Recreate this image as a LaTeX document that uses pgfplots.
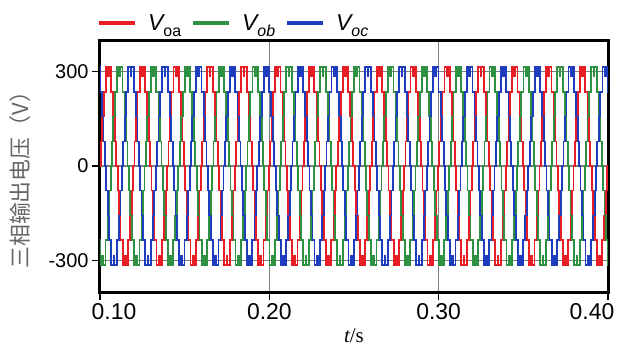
\documentclass[border=0pt]{standalone}
\usepackage{fontspec}
\setmainfont{Liberation Sans}
\newfontfamily\seriffont{Liberation Serif}
\newfontfamily\cjk{Noto Sans CJK SC}
\usepackage{pgfplots}
\pgfplotsset{compat=1.18}
\definecolor{cR}{RGB}{232,30,38}
\definecolor{cG}{RGB}{45,145,65}
\definecolor{cB}{RGB}{30,60,190}
\begin{document}
\begin{tikzpicture}
\path[use as bounding box] (-100bp,-55bp) rectangle (523bp,292bp);
\begin{axis}[
  at={(0,0)}, anchor=south west,
  scale only axis, width=508bp, height=252bp,
  xmin=100, xmax=400, ymin=-400, ymax=400,
  xtick={100,200,300,400}, xticklabels={\hspace*{28bp}0.10,0.20,0.30,0.40\hspace*{32bp}},
  ytick={-300,0,300}, yticklabels={-300,0,300},
  axis line style={line width=3bp, black},
  tick style={line width=1.5bp, black},
  tick align=outside, tick pos=left,
  major tick length=8bp,
  grid=major, major grid style={black!50, line width=1.5bp},
  xticklabel style={font=\fontsize{23}{26}\selectfont},
  yticklabel style={font=\fontsize{20}{24}\selectfont},
  xlabel={{\seriffont\itshape t}{\seriffont /s}},
  xlabel style={font=\fontsize{21}{24}\selectfont, yshift=-2bp},
  ylabel={{\cjk 三相输出电压（V）}},
  ylabel style={font=\fontsize{22}{24}\selectfont, text=black!60, at={(axis description cs:-0.157,0.465)}, anchor=center},
  legend style={at={(rel axis cs:0,1)}, anchor=south west, draw=none, fill=none,
    legend columns=3, font=\fontsize{23}{26}\selectfont, inner sep=0pt,
    yshift=6bp, xshift=-3bp,
    /tikz/every even column/.append style={column sep=8bp}},
  legend image code/.code={\draw[#1, line width=4bp] (0bp,0bp) -- (36bp,0bp);},
  every axis plot/.append style={line width=1.8bp},
]
\addplot[cR, const plot] coordinates {
(100,0)
(100.399,78)(101.223,157)(102.149,235)(103.391,315)(104.722,285)(105.278,315)(106.609,235)(107.851,157)(108.777,78)(109.601,0)
(110.399,-78)(111.223,-157)(112.149,-235)(113.391,-315)(114.722,-285)(115.278,-315)(116.609,-235)(117.851,-157)(118.777,-78)(119.601,0)
(120.399,78)(121.223,157)(122.149,235)(123.391,315)(124.722,285)(125.278,315)(126.609,235)(127.851,157)(128.777,78)(129.601,0)
(130.399,-78)(131.223,-157)(132.149,-235)(133.391,-315)(134.722,-285)(135.278,-315)(136.609,-235)(137.851,-157)(138.777,-78)(139.601,0)
(140.399,78)(141.223,157)(142.149,235)(143.391,315)(144.722,285)(145.278,315)(146.609,235)(147.851,157)(148.777,78)(149.601,0)
(150.399,-78)(151.223,-157)(152.149,-235)(153.391,-315)(154.722,-285)(155.278,-315)(156.609,-235)(157.851,-157)(158.777,-78)(159.601,0)
(160.399,78)(161.223,157)(162.149,235)(163.391,315)(164.722,285)(165.278,315)(166.609,235)(167.851,157)(168.777,78)(169.601,0)
(170.399,-78)(171.223,-157)(172.149,-235)(173.391,-315)(174.722,-285)(175.278,-315)(176.609,-235)(177.851,-157)(178.777,-78)(179.601,0)
(180.399,78)(181.223,157)(182.149,235)(183.391,315)(184.722,285)(185.278,315)(186.609,235)(187.851,157)(188.777,78)(189.601,0)
(190.399,-78)(191.223,-157)(192.149,-235)(193.391,-315)(194.722,-285)(195.278,-315)(196.609,-235)(197.851,-157)(198.777,-78)(199.601,0)
(200.399,78)(201.223,157)(202.149,235)(203.391,315)(204.722,285)(205.278,315)(206.609,235)(207.851,157)(208.777,78)(209.601,0)
(210.399,-78)(211.223,-157)(212.149,-235)(213.391,-315)(214.722,-285)(215.278,-315)(216.609,-235)(217.851,-157)(218.777,-78)(219.601,0)
(220.399,78)(221.223,157)(222.149,235)(223.391,315)(224.722,285)(225.278,315)(226.609,235)(227.851,157)(228.777,78)(229.601,0)
(230.399,-78)(231.223,-157)(232.149,-235)(233.391,-315)(234.722,-285)(235.278,-315)(236.609,-235)(237.851,-157)(238.777,-78)(239.601,0)
(240.399,78)(241.223,157)(242.149,235)(243.391,315)(244.722,285)(245.278,315)(246.609,235)(247.851,157)(248.777,78)(249.601,0)
(250.399,-78)(251.223,-157)(252.149,-235)(253.391,-315)(254.722,-285)(255.278,-315)(256.609,-235)(257.851,-157)(258.777,-78)(259.601,0)
(260.399,78)(261.223,157)(262.149,235)(263.391,315)(264.722,285)(265.278,315)(266.609,235)(267.851,157)(268.777,78)(269.601,0)
(270.399,-78)(271.223,-157)(272.149,-235)(273.391,-315)(274.722,-285)(275.278,-315)(276.609,-235)(277.851,-157)(278.777,-78)(279.601,0)
(280.399,78)(281.223,157)(282.149,235)(283.391,315)(284.722,285)(285.278,315)(286.609,235)(287.851,157)(288.777,78)(289.601,0)
(290.399,-78)(291.223,-157)(292.149,-235)(293.391,-315)(294.722,-285)(295.278,-315)(296.609,-235)(297.851,-157)(298.777,-78)(299.601,0)
(300.399,78)(301.223,157)(302.149,235)(303.391,315)(304.722,285)(305.278,315)(306.609,235)(307.851,157)(308.777,78)(309.601,0)
(310.399,-78)(311.223,-157)(312.149,-235)(313.391,-315)(314.722,-285)(315.278,-315)(316.609,-235)(317.851,-157)(318.777,-78)(319.601,0)
(320.399,78)(321.223,157)(322.149,235)(323.391,315)(324.722,285)(325.278,315)(326.609,235)(327.851,157)(328.777,78)(329.601,0)
(330.399,-78)(331.223,-157)(332.149,-235)(333.391,-315)(334.722,-285)(335.278,-315)(336.609,-235)(337.851,-157)(338.777,-78)(339.601,0)
(340.399,78)(341.223,157)(342.149,235)(343.391,315)(344.722,285)(345.278,315)(346.609,235)(347.851,157)(348.777,78)(349.601,0)
(350.399,-78)(351.223,-157)(352.149,-235)(353.391,-315)(354.722,-285)(355.278,-315)(356.609,-235)(357.851,-157)(358.777,-78)(359.601,0)
(360.399,78)(361.223,157)(362.149,235)(363.391,315)(364.722,285)(365.278,315)(366.609,235)(367.851,157)(368.777,78)(369.601,0)
(370.399,-78)(371.223,-157)(372.149,-235)(373.391,-315)(374.722,-285)(375.278,-315)(376.609,-235)(377.851,-157)(378.777,-78)(379.601,0)
(380.399,78)(381.223,157)(382.149,235)(383.391,315)(384.722,285)(385.278,315)(386.609,235)(387.851,157)(388.777,78)(389.601,0)
(390.399,-78)(391.223,-157)(392.149,-235)(393.391,-315)(394.722,-285)(395.278,-315)(396.609,-235)(397.851,-157)(398.777,-78)(399.601,0)
(400.5,0)
};
\addlegendentry{\hspace*{9bp}{\itshape V}\raisebox{-0.25em}{\fontsize{16}{17}\selectfont oa}}
\addplot[cG, const plot] coordinates {
(97.066,-78)(97.890,-157)(98.816,-235)(100.058,-315)(101.389,-285)(101.945,-315)(103.276,-235)(104.518,-157)(105.444,-78)(106.268,0)
(107.066,78)(107.890,157)(108.816,235)(110.058,315)(111.389,285)(111.945,315)(113.276,235)(114.518,157)(115.444,78)(116.268,0)
(117.066,-78)(117.890,-157)(118.816,-235)(120.058,-315)(121.389,-285)(121.945,-315)(123.276,-235)(124.518,-157)(125.444,-78)(126.268,0)
(127.066,78)(127.890,157)(128.816,235)(130.058,315)(131.389,285)(131.945,315)(133.276,235)(134.518,157)(135.444,78)(136.268,0)
(137.066,-78)(137.890,-157)(138.816,-235)(140.058,-315)(141.389,-285)(141.945,-315)(143.276,-235)(144.518,-157)(145.444,-78)(146.268,0)
(147.066,78)(147.890,157)(148.816,235)(150.058,315)(151.389,285)(151.945,315)(153.276,235)(154.518,157)(155.444,78)(156.268,0)
(157.066,-78)(157.890,-157)(158.816,-235)(160.058,-315)(161.389,-285)(161.945,-315)(163.276,-235)(164.518,-157)(165.444,-78)(166.268,0)
(167.066,78)(167.890,157)(168.816,235)(170.058,315)(171.389,285)(171.945,315)(173.276,235)(174.518,157)(175.444,78)(176.268,0)
(177.066,-78)(177.890,-157)(178.816,-235)(180.058,-315)(181.389,-285)(181.945,-315)(183.276,-235)(184.518,-157)(185.444,-78)(186.268,0)
(187.066,78)(187.890,157)(188.816,235)(190.058,315)(191.389,285)(191.945,315)(193.276,235)(194.518,157)(195.444,78)(196.268,0)
(197.066,-78)(197.890,-157)(198.816,-235)(200.058,-315)(201.389,-285)(201.945,-315)(203.276,-235)(204.518,-157)(205.444,-78)(206.268,0)
(207.066,78)(207.890,157)(208.816,235)(210.058,315)(211.389,285)(211.945,315)(213.276,235)(214.518,157)(215.444,78)(216.268,0)
(217.066,-78)(217.890,-157)(218.816,-235)(220.058,-315)(221.389,-285)(221.945,-315)(223.276,-235)(224.518,-157)(225.444,-78)(226.268,0)
(227.066,78)(227.890,157)(228.816,235)(230.058,315)(231.389,285)(231.945,315)(233.276,235)(234.518,157)(235.444,78)(236.268,0)
(237.066,-78)(237.890,-157)(238.816,-235)(240.058,-315)(241.389,-285)(241.945,-315)(243.276,-235)(244.518,-157)(245.444,-78)(246.268,0)
(247.066,78)(247.890,157)(248.816,235)(250.058,315)(251.389,285)(251.945,315)(253.276,235)(254.518,157)(255.444,78)(256.268,0)
(257.066,-78)(257.890,-157)(258.816,-235)(260.058,-315)(261.389,-285)(261.945,-315)(263.276,-235)(264.518,-157)(265.444,-78)(266.268,0)
(267.066,78)(267.890,157)(268.816,235)(270.058,315)(271.389,285)(271.945,315)(273.276,235)(274.518,157)(275.444,78)(276.268,0)
(277.066,-78)(277.890,-157)(278.816,-235)(280.058,-315)(281.389,-285)(281.945,-315)(283.276,-235)(284.518,-157)(285.444,-78)(286.268,0)
(287.066,78)(287.890,157)(288.816,235)(290.058,315)(291.389,285)(291.945,315)(293.276,235)(294.518,157)(295.444,78)(296.268,0)
(297.066,-78)(297.890,-157)(298.816,-235)(300.058,-315)(301.389,-285)(301.945,-315)(303.276,-235)(304.518,-157)(305.444,-78)(306.268,0)
(307.066,78)(307.890,157)(308.816,235)(310.058,315)(311.389,285)(311.945,315)(313.276,235)(314.518,157)(315.444,78)(316.268,0)
(317.066,-78)(317.890,-157)(318.816,-235)(320.058,-315)(321.389,-285)(321.945,-315)(323.276,-235)(324.518,-157)(325.444,-78)(326.268,0)
(327.066,78)(327.890,157)(328.816,235)(330.058,315)(331.389,285)(331.945,315)(333.276,235)(334.518,157)(335.444,78)(336.268,0)
(337.066,-78)(337.890,-157)(338.816,-235)(340.058,-315)(341.389,-285)(341.945,-315)(343.276,-235)(344.518,-157)(345.444,-78)(346.268,0)
(347.066,78)(347.890,157)(348.816,235)(350.058,315)(351.389,285)(351.945,315)(353.276,235)(354.518,157)(355.444,78)(356.268,0)
(357.066,-78)(357.890,-157)(358.816,-235)(360.058,-315)(361.389,-285)(361.945,-315)(363.276,-235)(364.518,-157)(365.444,-78)(366.268,0)
(367.066,78)(367.890,157)(368.816,235)(370.058,315)(371.389,285)(371.945,315)(373.276,235)(374.518,157)(375.444,78)(376.268,0)
(377.066,-78)(377.890,-157)(378.816,-235)(380.058,-315)(381.389,-285)(381.945,-315)(383.276,-235)(384.518,-157)(385.444,-78)(386.268,0)
(387.066,78)(387.890,157)(388.816,235)(390.058,315)(391.389,285)(391.945,315)(393.276,235)(394.518,157)(395.444,78)(396.268,0)
(397.066,-78)(397.890,-157)(398.816,-235)(400.058,-315)(401,-315)
};
\addlegendentry{\hspace*{9bp}{\itshape V}\raisebox{-0.25em}{\fontsize{16}{17}\selectfont\itshape ob}}
\addplot[cB, const plot] coordinates {
(93.732,78)(94.556,157)(95.482,235)(96.724,315)(98.055,285)(98.611,315)(99.942,235)(101.184,157)(102.110,78)(102.934,0)
(103.732,-78)(104.556,-157)(105.482,-235)(106.724,-315)(108.055,-285)(108.611,-315)(109.942,-235)(111.184,-157)(112.110,-78)(112.934,0)
(113.732,78)(114.556,157)(115.482,235)(116.724,315)(118.055,285)(118.611,315)(119.942,235)(121.184,157)(122.110,78)(122.934,0)
(123.732,-78)(124.556,-157)(125.482,-235)(126.724,-315)(128.055,-285)(128.611,-315)(129.942,-235)(131.184,-157)(132.110,-78)(132.934,0)
(133.732,78)(134.556,157)(135.482,235)(136.724,315)(138.055,285)(138.611,315)(139.942,235)(141.184,157)(142.110,78)(142.934,0)
(143.732,-78)(144.556,-157)(145.482,-235)(146.724,-315)(148.055,-285)(148.611,-315)(149.942,-235)(151.184,-157)(152.110,-78)(152.934,0)
(153.732,78)(154.556,157)(155.482,235)(156.724,315)(158.055,285)(158.611,315)(159.942,235)(161.184,157)(162.110,78)(162.934,0)
(163.732,-78)(164.556,-157)(165.482,-235)(166.724,-315)(168.055,-285)(168.611,-315)(169.942,-235)(171.184,-157)(172.110,-78)(172.934,0)
(173.732,78)(174.556,157)(175.482,235)(176.724,315)(178.055,285)(178.611,315)(179.942,235)(181.184,157)(182.110,78)(182.934,0)
(183.732,-78)(184.556,-157)(185.482,-235)(186.724,-315)(188.055,-285)(188.611,-315)(189.942,-235)(191.184,-157)(192.110,-78)(192.934,0)
(193.732,78)(194.556,157)(195.482,235)(196.724,315)(198.055,285)(198.611,315)(199.942,235)(201.184,157)(202.110,78)(202.934,0)
(203.732,-78)(204.556,-157)(205.482,-235)(206.724,-315)(208.055,-285)(208.611,-315)(209.942,-235)(211.184,-157)(212.110,-78)(212.934,0)
(213.732,78)(214.556,157)(215.482,235)(216.724,315)(218.055,285)(218.611,315)(219.942,235)(221.184,157)(222.110,78)(222.934,0)
(223.732,-78)(224.556,-157)(225.482,-235)(226.724,-315)(228.055,-285)(228.611,-315)(229.942,-235)(231.184,-157)(232.110,-78)(232.934,0)
(233.732,78)(234.556,157)(235.482,235)(236.724,315)(238.055,285)(238.611,315)(239.942,235)(241.184,157)(242.110,78)(242.934,0)
(243.732,-78)(244.556,-157)(245.482,-235)(246.724,-315)(248.055,-285)(248.611,-315)(249.942,-235)(251.184,-157)(252.110,-78)(252.934,0)
(253.732,78)(254.556,157)(255.482,235)(256.724,315)(258.055,285)(258.611,315)(259.942,235)(261.184,157)(262.110,78)(262.934,0)
(263.732,-78)(264.556,-157)(265.482,-235)(266.724,-315)(268.055,-285)(268.611,-315)(269.942,-235)(271.184,-157)(272.110,-78)(272.934,0)
(273.732,78)(274.556,157)(275.482,235)(276.724,315)(278.055,285)(278.611,315)(279.942,235)(281.184,157)(282.110,78)(282.934,0)
(283.732,-78)(284.556,-157)(285.482,-235)(286.724,-315)(288.055,-285)(288.611,-315)(289.942,-235)(291.184,-157)(292.110,-78)(292.934,0)
(293.732,78)(294.556,157)(295.482,235)(296.724,315)(298.055,285)(298.611,315)(299.942,235)(301.184,157)(302.110,78)(302.934,0)
(303.732,-78)(304.556,-157)(305.482,-235)(306.724,-315)(308.055,-285)(308.611,-315)(309.942,-235)(311.184,-157)(312.110,-78)(312.934,0)
(313.732,78)(314.556,157)(315.482,235)(316.724,315)(318.055,285)(318.611,315)(319.942,235)(321.184,157)(322.110,78)(322.934,0)
(323.732,-78)(324.556,-157)(325.482,-235)(326.724,-315)(328.055,-285)(328.611,-315)(329.942,-235)(331.184,-157)(332.110,-78)(332.934,0)
(333.732,78)(334.556,157)(335.482,235)(336.724,315)(338.055,285)(338.611,315)(339.942,235)(341.184,157)(342.110,78)(342.934,0)
(343.732,-78)(344.556,-157)(345.482,-235)(346.724,-315)(348.055,-285)(348.611,-315)(349.942,-235)(351.184,-157)(352.110,-78)(352.934,0)
(353.732,78)(354.556,157)(355.482,235)(356.724,315)(358.055,285)(358.611,315)(359.942,235)(361.184,157)(362.110,78)(362.934,0)
(363.732,-78)(364.556,-157)(365.482,-235)(366.724,-315)(368.055,-285)(368.611,-315)(369.942,-235)(371.184,-157)(372.110,-78)(372.934,0)
(373.732,78)(374.556,157)(375.482,235)(376.724,315)(378.055,285)(378.611,315)(379.942,235)(381.184,157)(382.110,78)(382.934,0)
(383.732,-78)(384.556,-157)(385.482,-235)(386.724,-315)(388.055,-285)(388.611,-315)(389.942,-235)(391.184,-157)(392.110,-78)(392.934,0)
(393.732,78)(394.556,157)(395.482,235)(396.724,315)(398.055,285)(398.611,315)(399.942,235)(401.184,157)(402,157)
};
\addlegendentry{\hspace*{9bp}{\itshape V}\raisebox{-0.25em}{\fontsize{16}{17}\selectfont\itshape oc}}
\end{axis}
\end{tikzpicture}
\end{document}
